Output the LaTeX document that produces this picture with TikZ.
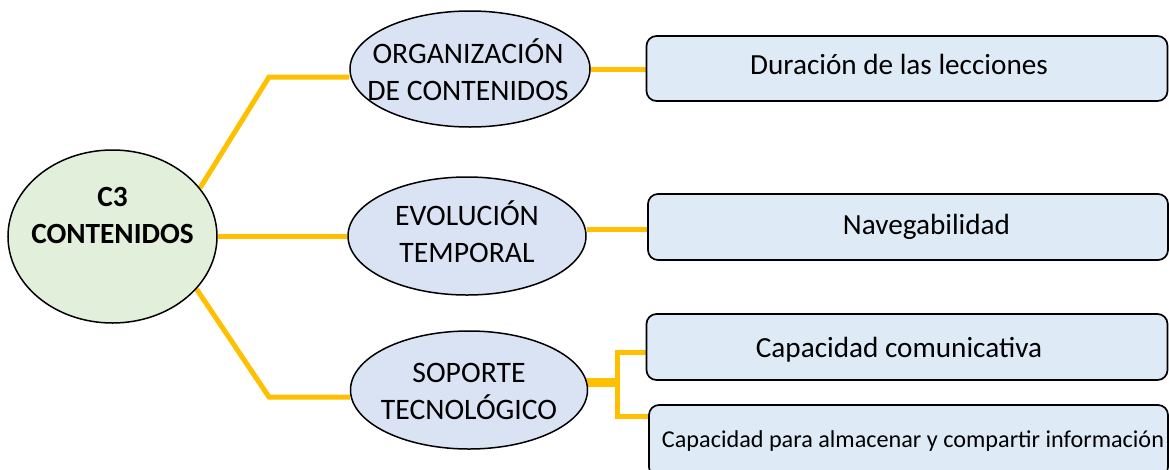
\documentclass[tikz,border=0pt]{standalone}
\usepackage{fontspec}
\setmainfont{Carlito}
\usetikzlibrary{shapes.geometric,backgrounds}
\definecolor{connc}{HTML}{FFC000}
\definecolor{greenfill}{HTML}{E2EFDA}
\definecolor{ellfill}{HTML}{DAE3F3}
\definecolor{boxfill}{HTML}{DEEBF7}
\begin{document}
\begin{tikzpicture}[x=1pt,y=-1pt,
  ell/.style={ellipse, draw=black, line width=1.5pt, fill=ellfill, inner sep=0pt},
  centre/.style={ellipse, draw=black, line width=1.5pt, fill=greenfill, inner sep=0pt},
  boxnode/.style={rectangle, rounded corners=10pt, draw=black, line width=1.7pt, fill=boxfill, inner sep=0pt},
  lbl/.style={font=\fontsize{29.7}{37}\selectfont, align=center, inner sep=0pt},
  boldlbl/.style={font=\fontsize{29.3}{37}\selectfont\bfseries, align=center, inner sep=0pt},
  one/.style={font=\fontsize{29.2}{35}\selectfont, inner sep=0pt, text height=18.8pt, text depth=0pt},
  small/.style={font=\fontsize{24.2}{28}\selectfont, inner sep=0pt, text height=15.6pt, text depth=0pt},
  conn/.style={draw=connc, line width=5pt},
]
\useasboundingbox (0,0) rectangle (1169,469);
\clip (0,0) rectangle (1169,469);

% centre
\node[centre, minimum width=209pt, minimum height=173pt] (c) at (112.5,236.5) {};
\node[boldlbl] (ct) at (112.5,215) {C3\\CONTENIDOS};

% ellipses
\node[ell, minimum width=240pt, minimum height=116pt] (e1) at (470,69) {};
\node[lbl] (t1) at (468,70) {ORGANIZACIÓN\\DE CONTENIDOS};
\node[ell, minimum width=238pt, minimum height=118pt] (e2) at (467,236) {};
\node[lbl] (t2) at (467,232) {EVOLUCIÓN\\TEMPORAL};
\node[ell, minimum width=237pt, minimum height=118pt] (e3) at (469,390) {};
\node[lbl] (t3) at (469,391) {SOPORTE\\TECNOLÓGICO};

% boxes
\node[boxnode, minimum width=521pt, minimum height=65pt] (b1) at (907,68.5) {};
\node[one] (bt1) at (899,65) {Duración de las lecciones};
\node[boxnode, minimum width=520pt, minimum height=66pt] (b2) at (908,227) {};
\node[one] (bt2) at (926.5,225) {Navegabilidad};
\node[boxnode, minimum width=521pt, minimum height=66pt] (b3) at (907,347) {};
\node[one] (bt3) at (899,348) {Capacidad comunicativa};
\node[boxnode, minimum width=519pt, minimum height=72pt] (b4) at (908.5,441) {};
\node[small] (bt4) at (913,440) {Capacidad para almacenar y compartir información};

% connectors
\coordinate (k1) at (269,77);
\coordinate (k3) at (269,397);
\coordinate (j0) at (617,382);
\coordinate (j1) at (617,352);
\coordinate (j2) at (617,416);
\begin{scope}[on background layer]
\draw[conn] (c.29.5) -- (k1) -- (k1 -| e1.west);
\draw[conn] (c.east) -- (c.east -| e2.west);
\draw[conn] (c.-32.3) -- (k3) -- (k3 -| e3.west);
\draw[conn] (e1.east) -- (e1.east -| b1.west);
\draw[conn] ([yshift=7pt]e2.east) -- ([yshift=7pt]e2.east -| b2.west);
\draw[connc, line width=9pt] ([xshift=-3pt]j0 -| e3.east) -- ([xshift=2.5pt]j0);
\draw[conn] (b3.west |- j1) -- (j1) -- (j2) -- (b4.west |- j2);
\end{scope}
\end{tikzpicture}
\end{document}
